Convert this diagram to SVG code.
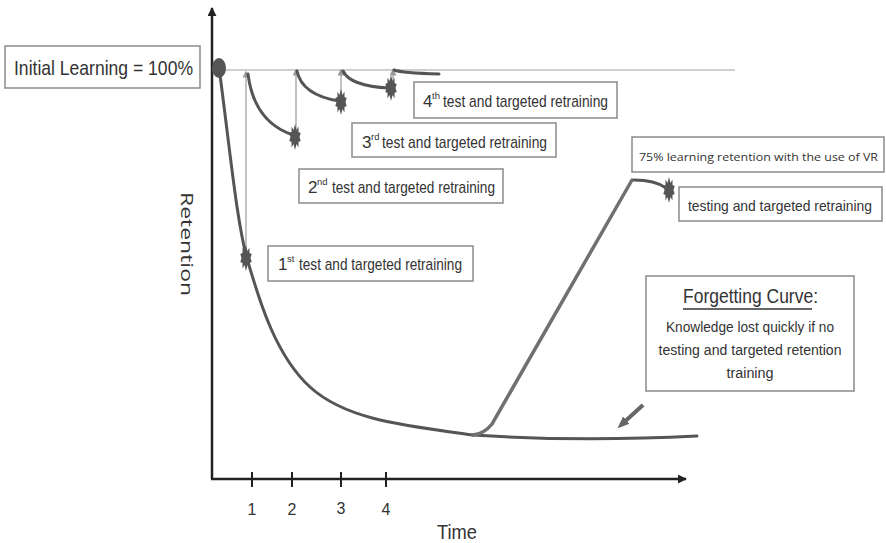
<svg xmlns="http://www.w3.org/2000/svg" width="886" height="543" viewBox="0 0 886 543">
<style>
.box{fill:#fff;stroke:#8a8a8a;stroke-width:1.5}
.t{font-family:"Liberation Sans Narrow","Liberation Sans",Arial,sans-serif;fill:#333}
.sup{font-family:"Liberation Sans Narrow","Liberation Sans",Arial,sans-serif;fill:#333;font-size:9.5px}
.curve{fill:none;stroke:#555;stroke-width:3;stroke-linecap:round}
.thin{fill:none;stroke:#999;stroke-width:1.2}
.axis{fill:none;stroke:#222;stroke-width:2.5}
</style>
<defs>
<polygon id="star" fill="#555" points="0,-13 1.5,-7 3.5,-10.5 3.5,-5 5.7,-4 4.5,0 5.7,4 3.5,5 3.5,10.5 1.5,7 0,13 -1.5,7 -3.5,10.5 -3.5,5 -5.7,4 -4.5,0 -5.7,-4 -3.5,-5 -3.5,-10.5 -1.5,-7"/>
<marker id="ah" viewBox="0 0 10 10" refX="8" refY="5" markerWidth="7" markerHeight="7" orient="auto-start-reverse" markerUnits="userSpaceOnUse"><path d="M0,0 L10,5 L0,10 Z" fill="#999"/></marker>
<marker id="axh" viewBox="0 0 10 10" refX="9" refY="5" markerWidth="9" markerHeight="9" orient="auto" markerUnits="userSpaceOnUse"><path d="M0,0 L10,5 L0,10 Z" fill="#222"/></marker>
<marker id="gh" viewBox="0 0 10 10" refX="6" refY="5" markerWidth="12" markerHeight="12" orient="auto" markerUnits="userSpaceOnUse"><path d="M0,1 L10,5 L0,9 Z" fill="#666"/></marker>
</defs>

<g id="axes">
<line class="axis" x1="212" y1="479" x2="212" y2="8" marker-end="url(#axh)"/>
<line class="axis" x1="211" y1="479" x2="686" y2="479" marker-end="url(#axh)"/>
<g stroke="#222" stroke-width="2">
<line x1="252" y1="472" x2="252" y2="487"/>
<line x1="292" y1="472" x2="292" y2="487"/>
<line x1="341" y1="472" x2="341" y2="487"/>
<line x1="386" y1="472" x2="386" y2="487"/>
</g>
<g class="t" font-size="16" text-anchor="middle">
<text x="252" y="515">1</text>
<text x="292" y="515">2</text>
<text x="341" y="514">3</text>
<text x="386" y="515">4</text>
</g>
<text class="t" x="457" y="539" font-size="21" text-anchor="middle" textLength="40" lengthAdjust="spacingAndGlyphs">Time</text>
<text font-family="'Open Sans','DejaVu Sans',sans-serif" font-size="17" fill="#333" text-anchor="middle" textLength="104" lengthAdjust="spacingAndGlyphs" transform="translate(181,244) rotate(90)">Retention</text>
</g>

<g id="connectors">
<line x1="212" y1="70" x2="735" y2="70" stroke="#a0a0a0" stroke-width="1.2"/>
<line class="thin" x1="246" y1="256" x2="246" y2="72" marker-end="url(#ah)"/>
<line class="thin" x1="296" y1="135" x2="296" y2="70" marker-end="url(#ah)"/>
<line class="thin" x1="341" y1="100" x2="341" y2="70" marker-end="url(#ah)"/>
<line class="thin" x1="393" y1="86" x2="393" y2="70" marker-end="url(#ah)"/>
<path class="curve" d="M220,75 C230,150 237,225 248,262 S275,355 310,387 S400,425 473,435"/>
<path class="curve" d="M473,435 Q580,442 697,436"/>
<path fill="none" stroke="#707070" stroke-width="3.5" stroke-linecap="round" d="M473,435 Q484,434 492,424 L632,180"/>
<path class="curve" d="M248,74 Q254,122 293,135"/>
<path class="curve" d="M297,71 Q302,95 339,101"/>
<path class="curve" d="M343,71 Q350,86 389,88"/>
<path class="curve" d="M394,70 Q402,73 439,74"/>
<path class="curve" d="M634,180 Q655,180 666,188"/>
<line x1="643" y1="405" x2="621" y2="425" stroke="#666" stroke-width="4" marker-end="url(#gh)"/>
<ellipse cx="219" cy="68" rx="7" ry="10" fill="#555"/>
<use href="#star" x="246" y="258"/>
<use href="#star" x="295" y="137"/>
<use href="#star" x="341" y="102"/>
<use href="#star" x="391" y="88"/>
<use href="#star" x="669" y="190"/>
</g>

<g id="initial">
<rect class="box" x="5" y="46" width="195" height="42"/>
<text class="t" x="14" y="75" font-size="21" textLength="179" lengthAdjust="spacingAndGlyphs">Initial Learning = 100%</text>
</g>

<g id="test4">
<rect class="box" x="414" y="82" width="203" height="36"/>
<text class="t" x="423" y="107" font-size="17">4</text>
<text class="sup" x="432" y="99">th</text>
<text class="t" x="443" y="107" font-size="17" textLength="165" lengthAdjust="spacingAndGlyphs">test and targeted retraining</text>
</g>

<g id="test3">
<rect class="box" x="352" y="123" width="204" height="34"/>
<text class="t" x="362" y="148" font-size="17">3</text>
<text class="sup" x="371" y="140">rd</text>
<text class="t" x="382" y="148" font-size="17" textLength="165" lengthAdjust="spacingAndGlyphs">test and targeted retraining</text>
</g>

<g id="test2">
<rect class="box" x="299" y="169" width="204" height="34"/>
<text class="t" x="308" y="193" font-size="17">2</text>
<text class="sup" x="317" y="185">nd</text>
<text class="t" x="332" y="193" font-size="17" textLength="163" lengthAdjust="spacingAndGlyphs">test and targeted retraining</text>
</g>

<g id="test1">
<rect class="box" x="268" y="246" width="205" height="35"/>
<text class="t" x="278" y="270" font-size="17">1</text>
<text class="sup" x="287" y="262">st</text>
<text class="t" x="299" y="270" font-size="17" textLength="163" lengthAdjust="spacingAndGlyphs">test and targeted retraining</text>
</g>

<g id="vr">
<rect class="box" x="632" y="137" width="252" height="35"/>
<text x="639" y="161" font-family="'Open Sans','DejaVu Sans',sans-serif" font-size="11.5" fill="#333" textLength="239" lengthAdjust="spacingAndGlyphs">75% learning retention with the use of VR</text>
</g>

<g id="testing">
<rect class="box" x="679" y="187" width="203" height="34"/>
<text class="t" x="688" y="211" font-size="14.5" textLength="184" lengthAdjust="spacingAndGlyphs">testing and targeted retraining</text>
</g>

<g id="forgetting">
<rect class="box" x="646" y="276" width="208" height="115"/>
<text class="t" x="683" y="303" font-size="20" textLength="135" lengthAdjust="spacingAndGlyphs">Forgetting Curve:</text>
<line x1="683" y1="309" x2="812" y2="309" stroke="#333" stroke-width="1.3"/>
<text class="t" x="750" y="332" font-size="15.5" text-anchor="middle" textLength="168" lengthAdjust="spacingAndGlyphs">Knowledge lost quickly if no</text>
<text class="t" x="750" y="355" font-size="15.5" text-anchor="middle" textLength="183" lengthAdjust="spacingAndGlyphs">testing and targeted retention</text>
<text class="t" x="750" y="378" font-size="15.5" text-anchor="middle" textLength="47" lengthAdjust="spacingAndGlyphs">training</text>
</g>
</svg>
